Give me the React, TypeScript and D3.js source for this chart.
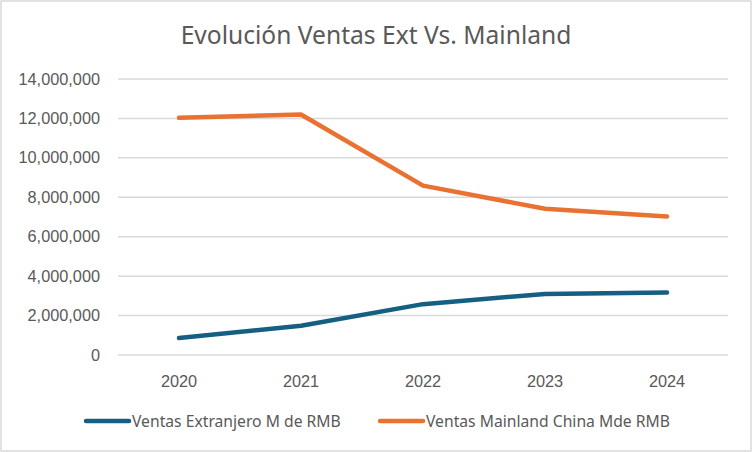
import * as d3 from "d3";

const years = ["2020", "2021", "2022", "2023", "2024"];
const ventasExtranjero = [860000, 1480000, 2580000, 3100000, 3170000];
const ventasMainland = [12030000, 12200000, 8590000, 7420000, 7030000];
const yTicks = [0, 2000000, 4000000, 6000000, 8000000, 10000000, 12000000, 14000000];

const series = [
  { name: "Ventas Extranjero M de RMB", values: ventasExtranjero, color: "#156082" },
  { name: "Ventas Mainland China Mde RMB", values: ventasMainland, color: "#E97132" },
];

const width = 752;
const height = 452;
const textColor = "#595959";

export default function App() {
  const x = d3.scaleBand().domain(years).range([118, 728]);
  const y = d3.scaleLinear().domain([0, 14000000]).range([355, 79]);
  const fmt = d3.format(",");

  const line = d3
    .line<number>()
    .x((_, i) => (x(years[i]) ?? 0) + x.bandwidth() / 2)
    .y((d) => y(d));

  // legend layout
  const legendX = [86, 380];

  return (
    <>
      <style>{"body{margin:0}"}</style>
      <svg width={width} height={height} style={{ display: "block", background: "#fff" }}>
        <rect x={1} y={1} width={width - 2} height={height - 2} fill="#fff" stroke="#D9D9D9" strokeWidth={1.5} />
        <text
          x={376}
          y={44}
          textAnchor="middle"
          fill={textColor}
          fontFamily="'Noto Sans', sans-serif"
          fontSize={24.6}
        >
          Evolución Ventas Ext Vs. Mainland
        </text>

        {yTicks.map((t) => (
          <g key={t}>
            <line x1={118} x2={728} y1={y(t)} y2={y(t)} stroke="#D9D9D9" strokeWidth={1.5} />
            <text
              x={100}
              y={y(t) + 5.5}
              textAnchor="end"
              fill={textColor}
              fontFamily="'Liberation Sans', Arial, sans-serif"
              fontSize={16.3}
            >
              {fmt(t)}
            </text>
          </g>
        ))}

        {years.map((yr) => (
          <text
            key={yr}
            x={(x(yr) ?? 0) + x.bandwidth() / 2}
            y={387}
            textAnchor="middle"
            fill={textColor}
            fontFamily="'Liberation Sans', Arial, sans-serif"
            fontSize={16.3}
          >
            {yr}
          </text>
        ))}

        {series.map((s) => (
          <path
            key={s.name}
            d={line(s.values) ?? ""}
            fill="none"
            stroke={s.color}
            strokeWidth={4.5}
            strokeLinecap="round"
            strokeLinejoin="round"
          />
        ))}

        {series.map((s, i) => (
          <g key={s.name} transform={`translate(${legendX[i]},421)`}>
            <line x1={0} x2={43} y1={0} y2={0} stroke={s.color} strokeWidth={4.5} strokeLinecap="round" />
            <text
              x={46}
              y={5.5}
              fill={textColor}
              fontFamily="'Noto Sans', sans-serif"
              fontSize={15.7}
            >
              {s.name}
            </text>
          </g>
        ))}
      </svg>
    </>
  );
}
